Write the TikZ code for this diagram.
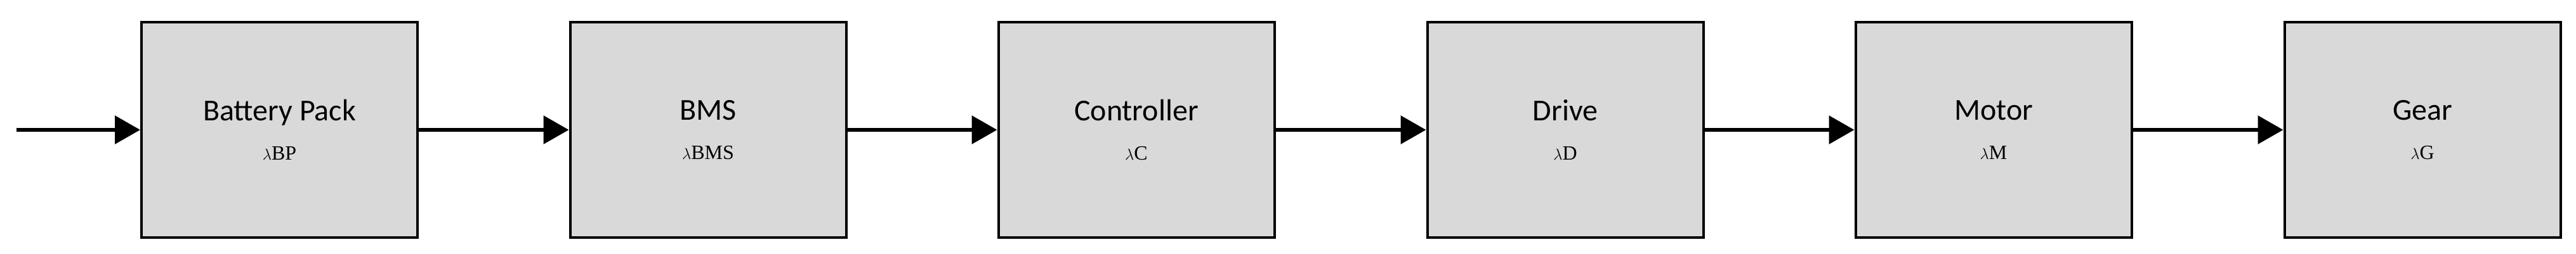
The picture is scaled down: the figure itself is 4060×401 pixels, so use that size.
\documentclass[tikz,border=0pt]{standalone}
\usepackage{fontspec}
\setmainfont{Carlito}
\newfontfamily\lamfont{Liberation Serif}
\usetikzlibrary{arrows.meta}
\begin{document}
\begin{tikzpicture}[x=1pt,y=-1pt,
  blk/.style={draw=black,line width=4pt,fill=black!15,minimum width=435pt,minimum height=339pt,inner sep=0pt,align=center,font=\fontsize{48}{58}\selectfont},
  con/.style={line width=6pt,-{Triangle[length=40pt,width=44pt]}}]
\useasboundingbox (0,0) rectangle (4060,401);
\newcommand{\lab}[2]{#1\\[4pt]{\lamfont\fontsize{48}{58}\selectfont$\lambda$\fontsize{32}{40}\selectfont #2}}
\node[blk] (a) at (440.5,205) {\lab{Battery Pack}{BP}};
\node[blk] (b) at (1116,205) {\lab{BMS}{BMS}};
\node[blk] (c) at (1791,205) {\lab{Controller}{C}};
\node[blk] (d) at (2467,205) {\lab{Drive}{D}};
\node[blk] (e) at (3142,205) {\lab{Motor}{M}};
\node[blk] (f) at (3818,205) {\lab{Gear}{G}};
\coordinate (s) at (26,205);
\draw[con] (s) -- (a);
\draw[con] (a) -- (b);
\draw[con] (b) -- (c);
\draw[con] (c) -- (d);
\draw[con] (d) -- (e);
\draw[con] (e) -- (f);
\end{tikzpicture}
\end{document}
